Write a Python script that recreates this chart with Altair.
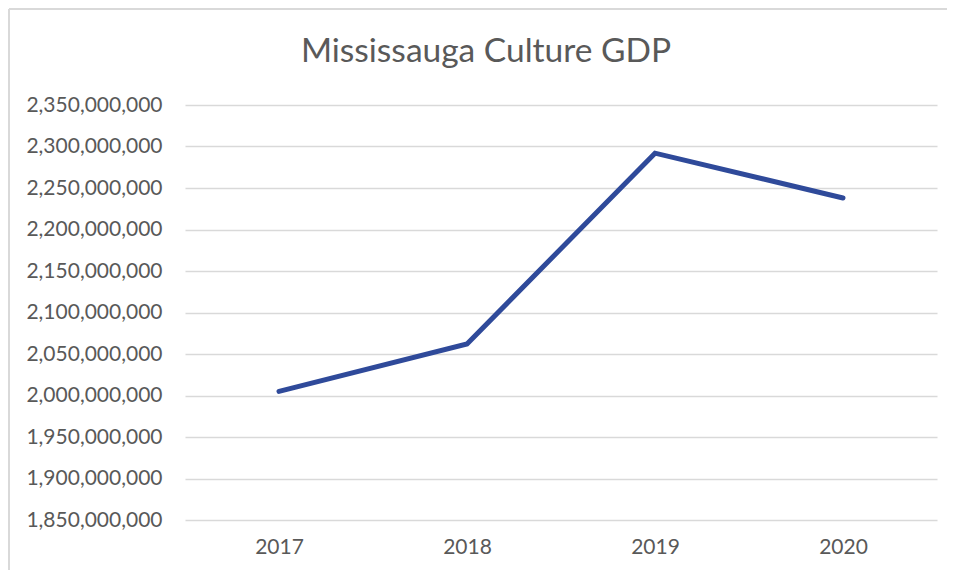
import altair as alt
import pandas as pd

years = ["2017", "2018", "2019", "2020"]
gdp = [2005000000, 2062000000, 2292000000, 2238000000]
y_ticks = [1850000000 + 50000000 * i for i in range(11)]
title_text = ["Mississauga Culture GDP"]

df = pd.DataFrame({"year": years, "gdp": gdp})
tdf = pd.DataFrame({"t": title_text})

W, H = 752, 415
PL, PT, PR, PB = 177, 97, 10, 50

line = alt.Chart(df).mark_line(
    color="#2f4a9a", strokeWidth=5, strokeCap="round", strokeJoin="miter"
).encode(
    x=alt.X("year:O", sort=years,
            scale=alt.Scale(type="point", padding=0.5),
            axis=alt.Axis(title=None, labelAngle=0, ticks=False, domain=False,
                          labelPadding=16, labelFontSize=21, labelFont="Lato",
                          labelColor="#595959", grid=False)),
    y=alt.Y("gdp:Q",
            scale=alt.Scale(domain=[1850000000, 2350000000], nice=False, zero=False),
            axis=alt.Axis(title=None, values=y_ticks, format=",d", ticks=False,
                          domain=False, labelPadding=23, labelFontSize=21,
                          labelFont="Lato", labelColor="#595959",
                          gridColor="#d9d9d9", gridWidth=1.5)),
)

border = alt.Chart(df).mark_rule(color="#d9d9d9", strokeWidth=1.5).encode(
    x=alt.value(-PL + 1), x2=alt.value(-PL + 1),
    y=alt.value(-PT + 1), y2=alt.value(H + PB),
)
border_top = alt.Chart(df).mark_rule(color="#d9d9d9", strokeWidth=1.5).encode(
    x=alt.value(-PL + 1), x2=alt.value(W + PR),
    y=alt.value(-PT + 1), y2=alt.value(-PT + 1),
)

title = alt.Chart(tdf).mark_text(
    font="Lato", fontSize=33.5, color="#595959", align="center",
    baseline="alphabetic"
).encode(
    text="t:N", x=alt.value(301), y=alt.value(-43),
)

chart = alt.layer(border, border_top, title, line).properties(
    width=W, height=H,
    autosize=alt.AutoSizeParams(type="none"),
    padding={"left": PL, "top": PT, "right": PR, "bottom": PB},
).configure_view(stroke=None)

chart.save("out.html", embed_options={"renderer": "svg", "actions": False})
